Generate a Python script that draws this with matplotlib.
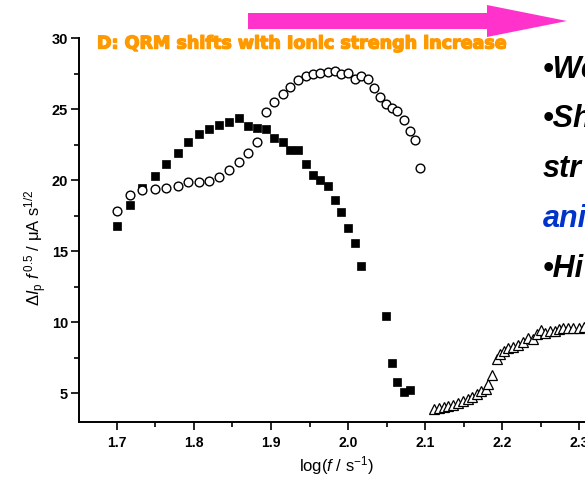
import matplotlib
matplotlib.use("Agg")
import matplotlib.pyplot as plt
from matplotlib.patches import Polygon
import matplotlib.patheffects as pe
from matplotlib.ticker import MultipleLocator

plt.rcParams['font.family'] = ['Liberation Sans', 'DejaVu Sans']
plt.rcParams['mathtext.fontset'] = 'custom'
plt.rcParams['mathtext.rm'] = 'Liberation Sans'
plt.rcParams['mathtext.it'] = 'Liberation Sans:italic'
plt.rcParams['mathtext.bf'] = 'Liberation Sans:bold'

# --- data ---
sq_x = [1.700, 1.717, 1.733, 1.749, 1.764, 1.779, 1.793, 1.807, 1.820, 1.833,
        1.846, 1.858, 1.870, 1.882, 1.893, 1.904, 1.915, 1.925, 1.935, 1.945,
        1.955, 1.964, 1.974, 1.983, 1.991, 2.000, 2.009, 2.017, 2.049, 2.057,
        2.064, 2.072, 2.080]
sq_y = [16.78, 18.26, 19.44, 20.28, 21.13, 21.92, 22.70, 23.24, 23.59, 23.87,
        24.11, 24.37, 23.80, 23.67, 23.61, 23.00, 22.72, 22.12, 22.16, 21.17,
        20.39, 20.00, 19.58, 18.63, 17.75, 16.66, 15.61, 13.99, 10.44, 7.11,
        5.77, 5.11, 5.25]

ci_x = [1.700, 1.717, 1.733, 1.749, 1.764, 1.779, 1.793, 1.807, 1.820, 1.833,
        1.846, 1.858, 1.870, 1.882, 1.893, 1.904, 1.915, 1.925, 1.935, 1.945,
        1.955, 1.964, 1.974, 1.983, 1.991, 2.000, 2.009, 2.017, 2.026, 2.034,
        2.042, 2.049, 2.057, 2.064, 2.072, 2.080, 2.087, 2.093]
ci_y = [17.84, 18.99, 19.32, 19.39, 19.44, 19.60, 19.88, 19.88, 19.95, 20.25,
        20.70, 21.27, 21.90, 22.72, 24.79, 25.53, 26.07, 26.59, 27.03, 27.32,
        27.49, 27.54, 27.63, 27.68, 27.46, 27.56, 27.13, 27.32, 27.13, 26.52,
        25.89, 25.35, 25.11, 24.88, 24.25, 23.47, 22.82, 20.85]

tr_x = [2.112, 2.118, 2.124, 2.130, 2.136, 2.142, 2.149, 2.155, 2.161, 2.167,
        2.173, 2.179, 2.182, 2.187, 2.193, 2.197, 2.202, 2.208, 2.214, 2.221,
        2.227, 2.234, 2.240, 2.245, 2.250, 2.256, 2.262, 2.268, 2.273, 2.279,
        2.285, 2.292, 2.300, 2.306]
tr_y = [3.90, 3.94, 4.01, 4.10, 4.20, 4.32, 4.44, 4.58, 4.76, 4.95,
        5.14, 5.32, 5.63, 6.31, 7.42, 7.77, 8.00, 8.17, 8.28, 8.40,
        8.63, 8.87, 8.82, 9.15, 9.44, 9.27, 9.39, 9.41, 9.51, 9.58,
        9.62, 9.62, 9.62, 9.64]

x_ticks = [1.7, 1.8, 1.9, 2.0, 2.1, 2.2, 2.3]
y_ticks = [5, 10, 15, 20, 25, 30]

title_text = "D: QRM shifts with Ionic strengh increase"
side_texts = ["\u2022We", "\u2022Sh", "str", "ani", "\u2022Hi"]
side_colors = ["black", "black", "black", "#0033cc", "black"]

W, H = 585, 487
fig = plt.figure(figsize=(W / 100, H / 100), dpi=100)

def fx(px):
    return px / W

def fy(py):
    return 1 - py / H

x0, x1 = 1.651, 2.35
left_px, bottom_px, top_px = 79, 421.7, 38.3
width_px = (x1 - x0) * 771.0
ax = fig.add_axes([fx(left_px), fy(bottom_px), width_px / W, (bottom_px - top_px) / H])
ax.set_xlim(x0, x1)
ax.set_ylim(3, 30)

ax.plot(sq_x, sq_y, linestyle='none', marker='s', markersize=6.2,
        markerfacecolor='black', markeredgecolor='black', markeredgewidth=0.5, clip_on=False)
ax.plot(ci_x, ci_y, linestyle='none', marker='o', markersize=6.3,
        markerfacecolor='white', markeredgecolor='black', markeredgewidth=1.0, clip_on=False)
ax.plot(tr_x, tr_y, linestyle='none', marker='^', markersize=7.2,
        markerfacecolor='white', markeredgecolor='black', markeredgewidth=0.9, clip_on=False)

for s in ['top', 'right']:
    ax.spines[s].set_visible(False)
for s in ['left', 'bottom']:
    ax.spines[s].set_linewidth(1.4)

ax.set_xticks(x_ticks)
ax.set_xticklabels([f"{v:.1f}" for v in x_ticks])
ax.set_yticks(y_ticks)
ax.xaxis.set_minor_locator(MultipleLocator(0.05))
ax.yaxis.set_minor_locator(MultipleLocator(2.5))
ax.tick_params(axis='both', which='major', direction='out', length=6, width=1.2)
ax.tick_params(axis='both', which='minor', direction='out', length=3.5, width=1.2)
ax.tick_params(axis='x', which='major', pad=4)
ax.tick_params(axis='y', which='major', pad=2)
for lab in ax.get_xticklabels():
    lab.set_fontweight('bold')
    lab.set_fontsize(10)
for lab in ax.get_yticklabels():
    lab.set_fontweight('bold')
    lab.set_fontsize(10.5)

ax.set_ylabel(r'$\Delta\mathit{I}_{\mathrm{p}}\ \mathit{f}^{\,\mathrm{0.5}}$ / μA s$^{\mathrm{1/2}}$',
              fontsize=12)
ax.set_xlabel(r'log($\mathit{f}$ / s$^{\mathrm{-1}}$)', fontsize=12)
ax.xaxis.label.set_va('center')
ax.yaxis.label.set_va('center')
ax.xaxis.set_label_coords(fx(336), fy(466), transform=fig.transFigure)
ax.yaxis.set_label_coords(fx(36), fy(248), transform=fig.transFigure)

# magenta arrow
arrow_pts = [(248, 13), (487, 13), (487, 5), (567, 21), (487, 37), (487, 29), (248, 29)]
fig.patches.append(Polygon([(fx(a), fy(b)) for a, b in arrow_pts], closed=True,
                           transform=fig.transFigure, facecolor='#ff33cc',
                           edgecolor='none', figure=fig))

# orange title
fig.text(fx(97), fy(43.5), title_text, color='#ff9900', fontsize=12.6, fontweight='bold',
         family='DejaVu Sans', ha='left', va='center',
         path_effects=[pe.withStroke(linewidth=1.0, foreground='#ff9900')])

# right-hand slide text
baselines = [78, 127, 177, 227, 277]
for t, c, b in zip(side_texts, side_colors, baselines):
    fig.text(fx(543), fy(b), t, color=c, fontsize=22, fontweight='bold',
             fontstyle='italic', ha='left', va='baseline')

fig.savefig('out.png', dpi=100)
